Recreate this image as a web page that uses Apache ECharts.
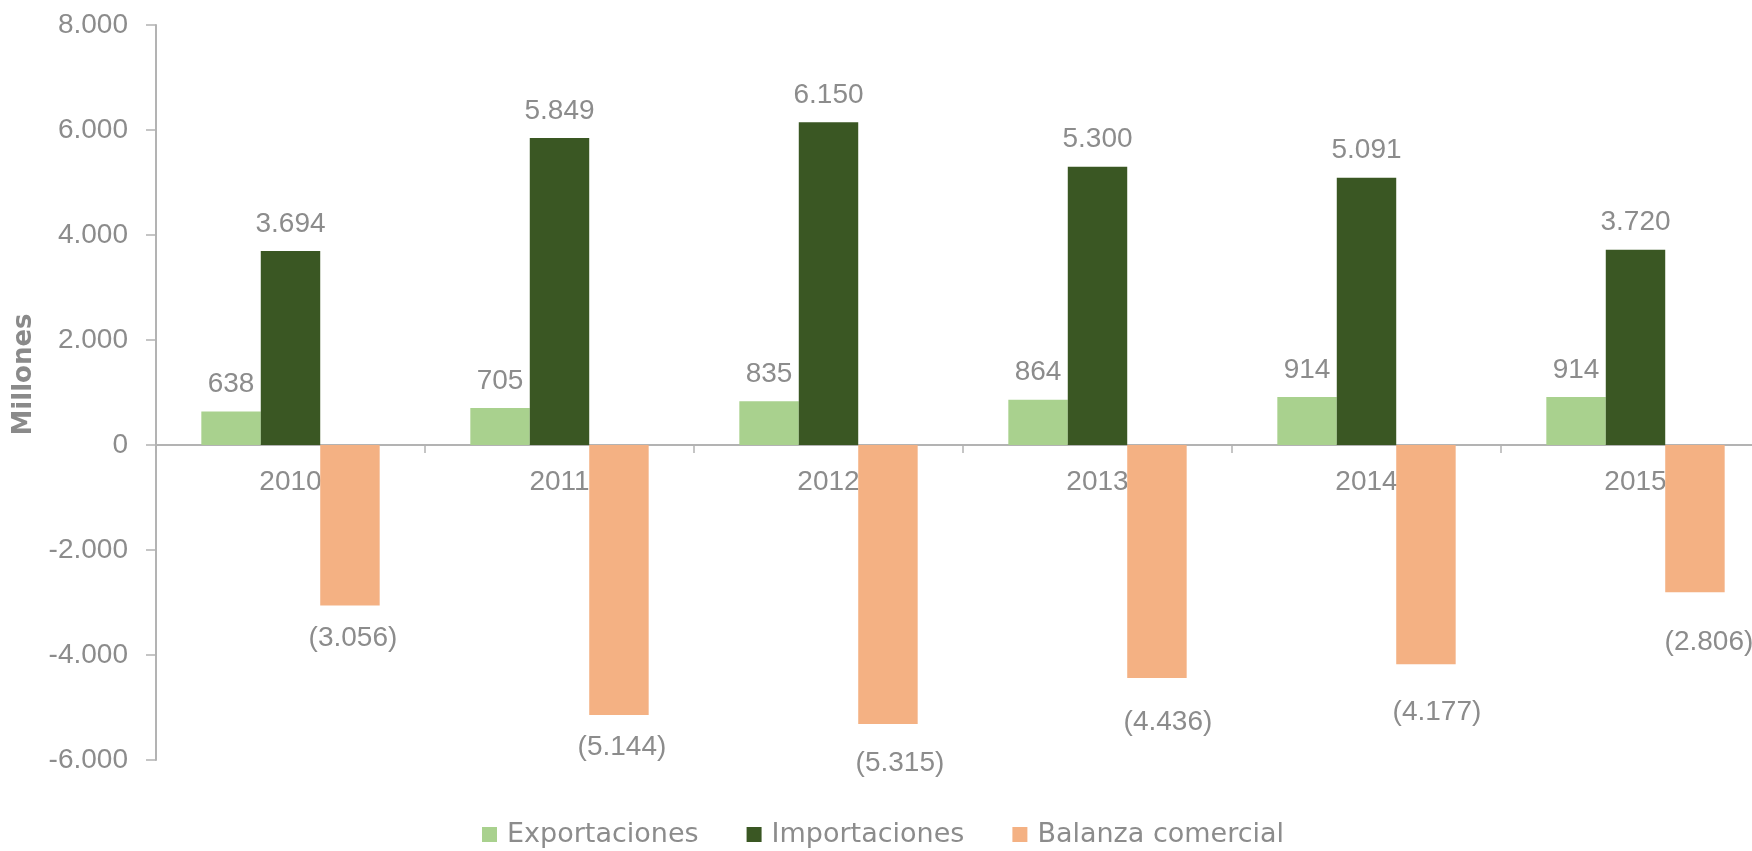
<!DOCTYPE html>
<html>
<head>
<meta charset="utf-8">
<script src="https://cdn.jsdelivr.net/npm/echarts@6/dist/echarts.min.js"></script>
<style>
html,body{margin:0;padding:0;background:#fff;overflow:hidden;}
#chart{width:1752px;height:851px;}
</style>
</head>
<body>
<div id="chart"></div>
<script>
var categories = ['2010', '2011', '2012', '2013', '2014', '2015'];
var exportaciones = [638, 705, 835, 864, 914, 914];
var importaciones = [3694, 5849, 6150, 5300, 5091, 3720];
var balanza = [-3056, -5144, -5315, -4436, -4177, -2806];
var seriesNames = ['Exportaciones', 'Importaciones', 'Balanza comercial'];
var yAxisName = 'Millones';

// label placement tweaks (style only)
var balanzaLabelOffsets = [[3, 19], [3, 18], [12, 25], [11, 30], [11, 34], [14, 36]];

var TXT = '#8c8c8c';
var NUMFONT = 'Liberation Sans';

function fmt(v) {
  var a = Math.abs(v);
  var s = String(Math.round(a)).replace(/\B(?=(\d{3})+(?!\d))/g, '.');
  return v < 0 ? '(' + s + ')' : s;
}
function fmtAxis(v) {
  var a = Math.abs(v);
  var s = String(Math.round(a)).replace(/\B(?=(\d{3})+(?!\d))/g, '.');
  return (v < 0 ? '-' : '') + s;
}

var chart = echarts.init(document.getElementById('chart'), null, {renderer: 'canvas'});

var topLabel = {
  show: true, position: 'top', distance: 13,
  color: TXT, fontFamily: NUMFONT, fontSize: 28, lineHeight: 28,
  formatter: function (p) { return fmt(p.value); }
};

var gridTop = 25, gridHeight = 735;
var yMin = -6000, yMax = 8000;
var zeroShift = gridHeight * (0 - yMin) / (yMax - yMin);

chart.setOption({
  animation: false,
  textStyle: {fontFamily: NUMFONT},
  grid: {left: 156, width: 1614, top: gridTop, height: gridHeight, containLabel: false, outerBoundsMode: 'none'},
  legend: {
    data: seriesNames,
    left: 482, top: 821, padding: 0,
    itemWidth: 15, itemHeight: 15, itemGap: 48,
    icon: 'rect',
    textStyle: {color: TXT, fontFamily: 'DejaVu Sans', fontSize: 27, padding: [0, 0, 0, 5]}
  },
  xAxis: {
    type: 'category',
    data: categories,
    offset: -zeroShift,
    axisLine: {onZero: false, lineStyle: {color: '#b3b3b3', width: 2}},
    axisTick: {show: true, length: 8, lineStyle: {color: '#b3b3b3', width: 1.5}},
    axisLabel: {color: TXT, fontFamily: NUMFONT, fontSize: 28, margin: 23}
  },
  yAxis: {
    type: 'value',
    min: yMin, max: yMax, interval: 2000,
    name: yAxisName,
    nameLocation: 'middle',
    nameRotate: 90,
    nameGap: 107,
    nameTextStyle: {color: '#8a8a8a', fontFamily: 'DejaVu Sans', fontSize: 26, fontWeight: 'bold', padding: [0, 0, 0, 36]},
    splitLine: {show: false},
    axisLine: {show: true, lineStyle: {color: '#b3b3b3', width: 2}},
    axisTick: {show: true, length: 10, lineStyle: {color: '#b3b3b3', width: 1.5}},
    axisLabel: {color: TXT, fontFamily: NUMFONT, fontSize: 28, margin: 28, formatter: fmtAxis}
  },
  series: [
    {
      name: seriesNames[0], type: 'bar', data: exportaciones,
      barWidth: '22.1%', barGap: '0%',
      itemStyle: {color: '#a9d18e'},
      label: topLabel
    },
    {
      name: seriesNames[1], type: 'bar', data: importaciones,
      barWidth: '22.1%', barGap: '0%',
      itemStyle: {color: '#3a5723'},
      label: topLabel
    },
    {
      name: seriesNames[2], type: 'bar',
      data: balanza.map(function (v, i) {
        return {value: v, label: {offset: balanzaLabelOffsets[i]}};
      }),
      barWidth: '22.1%', barGap: '0%',
      itemStyle: {color: '#f4b183'},
      label: {
        show: true, position: 'bottom', distance: 0,
        color: TXT, fontFamily: NUMFONT, fontSize: 28, lineHeight: 28,
        formatter: function (p) { return fmt(p.value); }
      }
    }
  ]
});
</script>
</body>
</html>
